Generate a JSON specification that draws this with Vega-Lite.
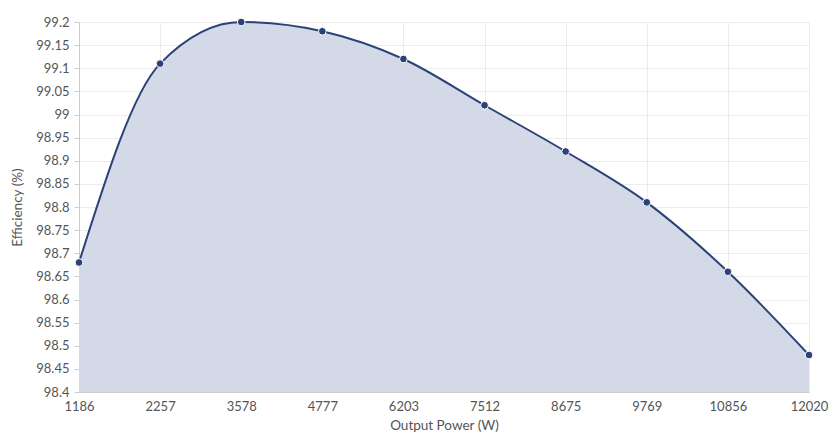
{
  "$schema": "https://vega.github.io/schema/vega-lite/v6.json",
  "width": 752,
  "height": 370,
  "autosize": "none",
  "padding": {"left": 79, "top": 22, "right": 9, "bottom": 51},
  "background": "white",
  "config": {
    "view": {"stroke": null},
    "axis": {
      "labelFont": "Lato",
      "titleFont": "Lato",
      "labelColor": "#555555",
      "titleColor": "#555555",
      "labelFontSize": 13,
      "titleFontSize": 13.5,
      "titleFontWeight": "normal",
      "gridColor": "#ececec",
      "domainColor": "#cccccc",
      "tickColor": "#cccccc"
    }
  },
  "data": {
    "values": [
      {"power": "1186", "eff": 98.68},
      {"power": "2257", "eff": 99.11},
      {"power": "3578", "eff": 99.2},
      {"power": "4777", "eff": 99.18},
      {"power": "6203", "eff": 99.12},
      {"power": "7512", "eff": 99.02},
      {"power": "8675", "eff": 98.92},
      {"power": "9769", "eff": 98.81},
      {"power": "10856", "eff": 98.66},
      {"power": "12020", "eff": 98.48}
    ]
  },
  "encoding": {
    "x": {
      "field": "power",
      "type": "ordinal",
      "sort": null,
      "scale": {"type": "point", "range": [0, 730], "padding": 0},
      "axis": {
        "title": "Output Power (W)",
        "labelAngle": 0,
        "ticks": false,
        "labelPadding": 8,
        "titlePadding": 5,
        "titleX": 365,
        "grid": true,
        "domain": true
      }
    },
    "y": {
      "field": "eff",
      "type": "quantitative",
      "scale": {"domain": [98.4, 99.2], "zero": false, "nice": false},
      "axis": {
        "title": "Efficiency (%)",
        "values": [98.4, 98.45, 98.5, 98.55, 98.6, 98.65, 98.7, 98.75, 98.8, 98.85, 98.9, 98.95, 99, 99.05, 99.1, 99.15, 99.2],
        "format": ".2~f",
        "tickSize": 5,
        "labelPadding": 5,
        "titlePadding": 11,
        "grid": true
      }
    }
  },
  "layer": [
    {
      "mark": {"type": "area", "interpolate": "monotone", "color": "#d3d9e7", "opacity": 1},
      "encoding": {"y2": {"datum": 98.4}}
    },
    {
      "mark": {"type": "line", "interpolate": "monotone", "color": "#2b4279", "strokeWidth": 2}
    },
    {
      "mark": {"type": "point", "filled": true, "size": 60, "color": "#2b4279", "stroke": "white", "strokeWidth": 1, "opacity": 1}
    }
  ]
}
